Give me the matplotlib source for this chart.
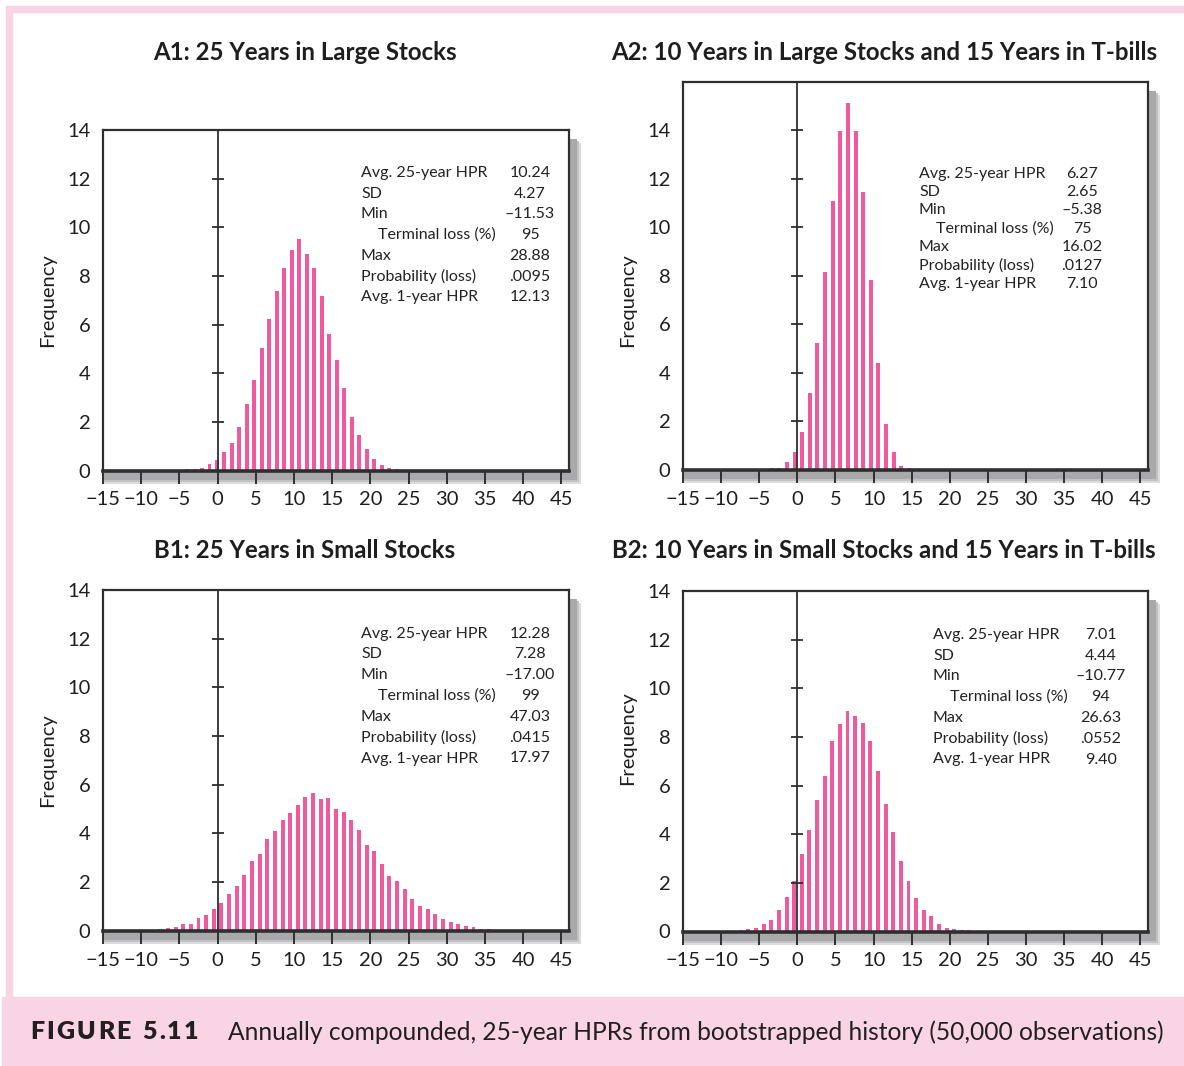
import numpy as np
import matplotlib
matplotlib.use("Agg")
import matplotlib.pyplot as plt
from matplotlib.patches import Rectangle

plt.rcParams["font.family"] = ["Lato", "DejaVu Sans"]

W, H = 1184, 1066
PINK = "#ef5a9f"
DARK = "#2e2e2e"
LIGHT_PINK = "#f9d4e4"

# frequency (%) per bin, bin centres = start + step * i
a1_start, a1_step = -4.0, 0.98
a1_freq = [0.05, 0.05, 0.10, 0.26, 0.43, 0.76, 1.13, 1.79, 2.74, 3.72, 5.04, 6.23, 7.38, 8.32, 9.06,
           9.51, 8.90, 8.32, 7.17, 5.61, 4.54, 3.39, 2.20, 1.46, 0.88, 0.47, 0.22, 0.10, 0.05]

a2_start, a2_step = -3.36, 1.0
a2_freq = [0.10, 0.10, 0.33, 0.75, 1.58, 3.17, 5.23, 8.15, 11.07, 13.95, 15.12, 13.95, 11.44, 7.82,
           4.40, 1.91, 0.75, 0.18, 0.10]

b1_start, b1_step = -9.5, 1.0
b1_freq = [0.02, 0.03, 0.07, 0.11, 0.15, 0.28, 0.28, 0.52, 0.64, 0.89, 1.14, 1.51, 1.84, 2.29, 2.87,
           3.16, 3.77, 4.10, 4.55, 4.84, 5.17, 5.50, 5.67, 5.42, 5.46, 5.01, 4.88, 4.55, 4.14, 3.53,
           3.28, 2.74, 2.25, 2.04, 1.71, 1.30, 1.02, 0.89, 0.69, 0.48, 0.36, 0.27, 0.19, 0.15, 0.07,
           0.07, 0.04, 0.03, 0.02, 0.02, 0.02]

b2_start, b2_step = -7.42, 1.0
b2_freq = [0.06, 0.10, 0.14, 0.31, 0.47, 0.88, 1.42, 2.08, 3.19, 4.18, 5.42, 6.41, 7.85, 8.55, 9.08,
           8.88, 8.59, 7.85, 6.61, 5.26, 4.11, 2.91, 2.08, 1.38, 0.88, 0.63, 0.30, 0.14, 0.10, 0.05,
           0.05]

stat_labels = ["Avg. 25-year HPR", "SD", "Min", "Terminal loss (%)", "Max",
               "Probability (loss)", "Avg. 1-year HPR"]
a1_stats = ["10.24", "4.27", "–11.53", "95", "28.88", ".0095", "12.13"]
a2_stats = ["6.27", "2.65", "–5.38", "75", "16.02", ".0127", "7.10"]
b1_stats = ["12.28", "7.28", "–17.00", "99", "47.03", ".0415", "17.97"]
b2_stats = ["7.01", "4.44", "–10.77", "94", "26.63", ".0552", "9.40"]

titles = ["A1: 25 Years in Large Stocks",
          "A2: 10 Years in Large Stocks and 15 Years in T-bills",
          "B1: 25 Years in Small Stocks",
          "B2: 10 Years in Small Stocks and 15 Years in T-bills"]

caption_tag = "FIGURE 5.11"
caption = "Annually compounded, 25-year HPRs from bootstrapped history (50,000 observations)"


def fx(x):
    return x / W


def fy(y):
    return 1 - y / H


# layout in pixels: axes box (left, top, right, bottom), y max, title centre,
# stats: label x, indent x, value x, first row y, row step, ylabel pos
panels = [
    dict(box=(103, 130, 569, 470.5), ymax=14, title=(305, 52),
         sx=(361, 378, 530), srow=(170.7, 20.8), ylab=(48, 300),
         start=a1_start, step=a1_step, freq=a1_freq, stats=a1_stats),
    dict(box=(683, 81.5, 1148, 470), ymax=16, title=(884, 52),
         sx=(919, 936, 1082), srow=(171.7, 18.4), ylab=(628, 300),
         start=a2_start, step=a2_step, freq=a2_freq, stats=a2_stats),
    dict(box=(103, 590, 569, 930.7), ymax=14, title=(305, 550),
         sx=(361, 378, 530), srow=(631.7, 20.8), ylab=(48, 760),
         start=b1_start, step=b1_step, freq=b1_freq, stats=b1_stats),
    dict(box=(683, 591, 1148, 931.5), ymax=14, title=(884, 550),
         sx=(933, 950, 1101), srow=(632.7, 20.8), ylab=(628, 738),
         start=b2_start, step=b2_step, freq=b2_freq, stats=b2_stats),
]

fig = plt.figure(figsize=(W / 100, H / 100), dpi=100)

# pink page frame and caption band
fig.patches.append(Rectangle((fx(6), fy(12)), fx(W - 6), 6 / H, transform=fig.transFigure,
                             color=LIGHT_PINK, zorder=-5))
fig.patches.append(Rectangle((fx(6), fy(998)), 6 / W, (998 - 12) / H, transform=fig.transFigure,
                             color=LIGHT_PINK, zorder=-5))
fig.patches.append(Rectangle((fx(2), 0), fx(W - 2), (H - 997) / H, transform=fig.transFigure,
                             color=LIGHT_PINK, zorder=-5))

for p, title in zip(panels, titles):
    l, t, r, b = p["box"]

    # soft drop shadow on right and bottom
    for off, col in [(13, "#dcdcde"), (11, "#c2c2c4"), (9, "#a9a9ab")]:
        fig.patches.append(Rectangle((fx(l), fy(b + off)), (r - l + off - 1) / W,
                                     (b - t) / H, transform=fig.transFigure,
                                     color=col, zorder=-2, lw=0))

    ax = fig.add_axes([fx(l), fy(b), (r - l) / W, (b - t) / H])
    ax.set_facecolor("white")
    ax.set_xlim(-15, 46)
    ax.set_ylim(0, p["ymax"])

    centers = p["start"] + p["step"] * np.arange(len(p["freq"]))
    ax.bar(centers, p["freq"], width=0.52, color=PINK, linewidth=0, zorder=2)

    ax.axvline(0, color=DARK, lw=1.3, zorder=3)
    yt = np.arange(2, 15, 2)
    ax.plot(np.zeros(len(yt)), yt, ls="none", marker="_", ms=9, mew=1.3, color=DARK, zorder=3)

    ax.set_xticks(np.arange(-15, 46, 5))
    ax.set_yticks(np.arange(0, 15, 2))
    ax.tick_params(axis="x", direction="out", length=9, width=1.4, color=DARK,
                   labelsize=14.5, pad=6, labelcolor="#1e1e1e")
    ax.tick_params(axis="y", length=0, labelsize=14.5, pad=9, labelcolor="#1e1e1e")
    for side, sp in ax.spines.items():
        sp.set_color(DARK)
        sp.set_linewidth(1.6)
    ax.spines["bottom"].set_linewidth(2.6)

    fig.text(fx(p["title"][0]), fy(p["title"][1]), title, ha="center", va="center",
             fontsize=17.3, fontweight="bold", color="#1e1e1e")
    fig.text(fx(p["ylab"][0]), fy(p["ylab"][1]), "Frequency", rotation=90,
             ha="center", va="center", fontsize=14.5, color="#1e1e1e")

    lx, ix, vx = p["sx"]
    y0, dy = p["srow"]
    for i, (lab, val) in enumerate(zip(stat_labels, p["stats"])):
        yy = fy(y0 + dy * i + 6)
        fig.text(fx(ix if i == 3 else lx), yy, lab, ha="left", va="baseline",
                 fontsize=11.5, color="#222222")
        fig.text(fx(vx), yy, val, ha="center", va="baseline", fontsize=11.5, color="#222222")

# caption: letter-spaced figure tag, then the description
renderer = fig.canvas.get_renderer()
x = 30
for ch in caption_tag:
    if ch == " ":
        x += 9
        continue
    txt = fig.text(fx(x), fy(1032), ch, ha="left", va="center", fontsize=18,
                   fontweight="heavy", color="#231f20")
    x += txt.get_window_extent(renderer).width + 2.3
fig.text(fx(228), fy(1032), caption, ha="left", va="center", fontsize=17.7, color="#231f20")

fig.savefig("out.png", dpi=100, facecolor="white")
